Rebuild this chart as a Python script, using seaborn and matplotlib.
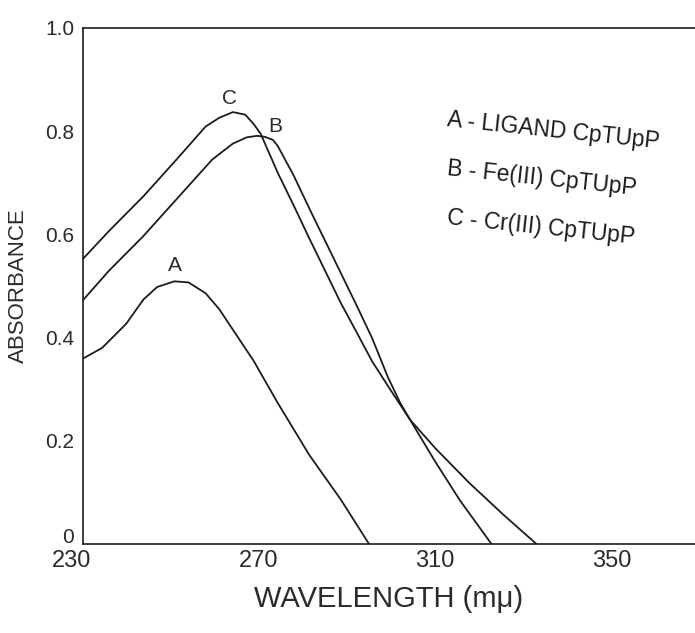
"""
Absorption spectra of the ligand CpTUpP and its Fe(III) / Cr(III) complexes.
Values read off a scanned plot.
"""

import pandas as pd
import seaborn as sns
import matplotlib.pyplot as plt
from matplotlib.ticker import MultipleLocator, FixedLocator, FuncFormatter
from matplotlib.transforms import ScaledTranslation


# ---------------------------
# Data
# ---------------------------

wl_a = [230, 234.4, 239.9, 243.8, 246.9, 250.8, 254.0, 257.9, 261.0, 264.9, 268.8,
        274.3, 281.4, 288.6, 295.0]
abs_a = [0.359, 0.380, 0.427, 0.474, 0.498, 0.509, 0.507, 0.486, 0.455, 0.405, 0.355,
         0.273, 0.173, 0.086, 0.0]

wl_b = [230, 235.9, 243.8, 251.6, 259.4, 264.1, 267.2, 269.6, 271.4, 273.2, 274.3,
        277.9, 281.4, 285.0, 288.6, 292.2, 295.7, 299.3, 302.1, 304.3, 310.0, 315.6, 322.8]
abs_b = [0.472, 0.529, 0.597, 0.671, 0.745, 0.776, 0.788, 0.791, 0.789, 0.783, 0.771,
         0.714, 0.651, 0.588, 0.525, 0.462, 0.399, 0.323, 0.273, 0.241, 0.160, 0.085, 0.0]

wl_c = [230, 235.9, 243.8, 251.6, 257.9, 261.0, 264.1, 266.9, 268.8, 270.4, 274.3,
        277.9, 281.4, 285.0, 288.6, 292.2, 295.7, 300.0, 304.3, 310.0, 317.8, 325.6, 333.0]
abs_c = [0.552, 0.606, 0.674, 0.748, 0.809, 0.826, 0.837, 0.832, 0.814, 0.795, 0.719,
         0.656, 0.593, 0.530, 0.467, 0.410, 0.354, 0.297, 0.241, 0.186, 0.118, 0.056, 0.0]

curve_names = ["A", "B", "C"]
legend_lines = [
    "A - LIGAND CpTUpP",
    "B - Fe(III) CpTUpP",
    "C - Cr(III) CpTUpP",
]
x_major = [230, 270, 310, 350]
y_major = [0, 0.2, 0.4, 0.6, 0.8, 1.0]

spectra = pd.concat(
    [
        pd.DataFrame({"Wavelength": wl, "Absorbance": ab, "Curve": name})
        for name, wl, ab in zip(curve_names, [wl_a, wl_b, wl_c], [abs_a, abs_b, abs_c])
    ],
    ignore_index=True,
)


# ---------------------------
# Plot style
# ---------------------------

sns.set_theme(style="white")
plt.rcParams["font.family"] = ["Liberation Sans", "DejaVu Sans"]

ink = "#1c1c1c"
text_ink = "#2b2b2b"


# ---------------------------
# Figure
# ---------------------------

fig = plt.figure(figsize=(6.95, 6.33), dpi=100)
ax = fig.add_axes([0.119, 0.1406, 0.881, 0.8152])

for name in curve_names:
    sns.lineplot(
        data=spectra[spectra["Curve"] == name],
        x="Wavelength",
        y="Absorbance",
        sort=False,
        estimator=None,
        color=ink,
        linewidth=1.3,
        ax=ax,
    )

ax.set_xlim(230, 369)
ax.set_ylim(0, 1.0)


# curve letters
ax.text(250.9, 0.54, "A", fontsize=15, color=text_ink, ha="center", va="center")
ax.text(273.6, 0.81, "B", fontsize=15, color=text_ink, ha="center", va="center")
ax.text(263.4, 0.863, "C", fontsize=15, color=text_ink, ha="center", va="center")

# handwritten key
for i, line in enumerate(legend_lines):
    ax.text(
        0.595, 0.822 - i * 0.095, line,
        transform=ax.transAxes,
        fontsize=16.5,
        color=ink,
        ha="left",
        va="center",
        rotation=-6,
        rotation_mode="anchor",
    )


# ---------------------------
# Axes, ticks, labels
# ---------------------------

ax.xaxis.set_major_locator(FixedLocator(x_major))
ax.xaxis.set_minor_locator(MultipleLocator(10))
ax.yaxis.set_major_locator(FixedLocator(y_major))
ax.yaxis.set_minor_locator(MultipleLocator(0.1))
ax.yaxis.set_major_formatter(FuncFormatter(lambda v, _: "0" if v == 0 else f"{v:.1f}"))

ax.tick_params(axis="x", which="major", direction="in", length=19, width=1.1, color=ink,
               labelsize=17, pad=4, labelcolor=text_ink)
ax.tick_params(axis="x", which="minor", direction="in", length=10, width=1.1, color=ink)
ax.tick_params(axis="y", which="major", direction="in", length=11, width=1.1, color=ink,
               labelsize=15, pad=6, labelcolor=text_ink)
ax.tick_params(axis="y", which="minor", direction="in", length=6.5, width=1.1, color=ink)

# "0" sits just above the corner, "230" a little to the left below it
y_ticks = ax.yaxis.get_major_ticks()
y_ticks[0].label1.set_transform(
    y_ticks[0].label1.get_transform() + ScaledTranslation(0, 0.09, fig.dpi_scale_trans)
)
x_ticks = ax.xaxis.get_major_ticks()
x_ticks[0].label1.set_transform(
    x_ticks[0].label1.get_transform() + ScaledTranslation(-0.11, 0, fig.dpi_scale_trans)
)

ax.set_xlabel("WAVELENGTH (mμ)", fontsize=21, color=text_ink, labelpad=10)
ax.set_ylabel("ABSORBANCE", fontsize=16, color=text_ink, labelpad=12)

ax.grid(False)
for side, spine in ax.spines.items():
    spine.set_color(ink)
    spine.set_linewidth(1.2)
ax.spines["right"].set_visible(False)


fig.savefig("out.png", dpi=100)
